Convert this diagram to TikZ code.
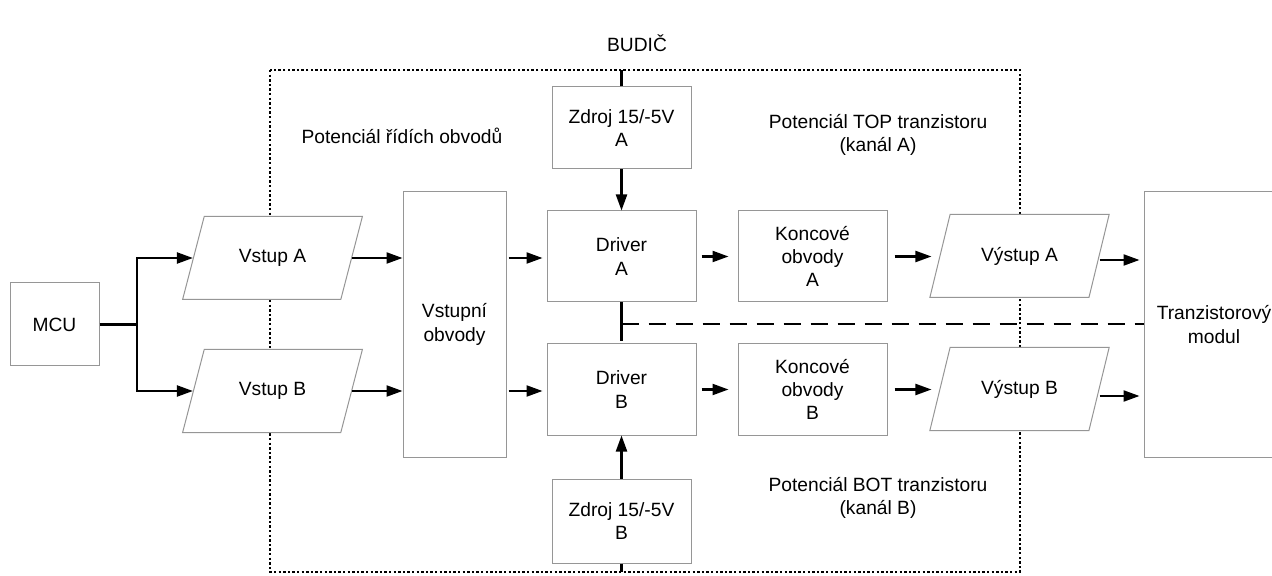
\documentclass[tikz,border=0pt]{standalone}
\usepackage{fontspec}
\setmainfont{Liberation Sans}
\usetikzlibrary{shapes.geometric, positioning, arrows.meta}
\definecolor{boxgray}{RGB}{150,150,150}

\begin{document}
\begin{tikzpicture}[x=0.5pt, y=-0.5pt, node distance=66.5pt,
		>={Triangle[length=8pt, width=5.5pt]},
		every node/.style={font=\fontsize{9.6}{11.7}\selectfont},
		box/.style={draw=boxgray, fill=white, align=center, line width=0.5pt},
		io/.style={trapezium, trapezium left angle=62, trapezium right angle=118, trapezium stretches=true, draw=boxgray, fill=white, line width=0.5pt, minimum width=90pt, minimum height=41.5pt, inner sep=1pt},
		flow/.style={->, line width=1.1pt},
		wire/.style={line width=1.1pt},
		border/.style={line width=0.9pt, dash pattern=on 1.2pt off 1.1pt},
		cut/.style={line width=1.1pt, dash pattern=on 8.5pt off 5pt}]
		\useasboundingbox (0,0) rectangle (1272,576);
		\clip (0,0) rectangle (1272,576);
		% hranice budice
		\coordinate (bnw) at (270,70);
		\coordinate (bse) at (1020,572);
		\draw[border] (bnw) rectangle (bse);
		\node (budic) at (637,43) {BUDIČ};
		\node (potR) at (402,136) {Potenciál řídích obvodů};
		\node[align=center] (potTop) at (878,135) {Potenciál TOP tranzistoru\\(kanál A)};
		\node[align=center] (potBot) at (878,498) {Potenciál BOT tranzistoru\\(kanál B)};
		% bloky
		\node[box, minimum width=44.5pt, minimum height=41.5pt] (mcu) at (54.5,324.5) {MCU};
		\node[io] (vstupA) at (272.5,258) {Vstup A};
		\node[io, below of=vstupA] (vstupB) {Vstup B};
		\node[box, minimum width=51.5pt, minimum height=132.5pt] (vstupni) at (454.5,324.5) {Vstupní\\obvody};
		\node[box, minimum width=74.5pt, minimum height=45.5pt] (drvA) at (621.5,256.5) {Driver\\A};
		\node[box, minimum width=74.5pt, minimum height=45.5pt, below of=drvA] (drvB) {Driver\\B};
		\node[box, minimum width=69.5pt, minimum height=41pt] (zdrA) at (621.5,128) {Zdroj 15/-5V\\A};
		\node[box, minimum width=69.5pt, minimum height=42pt] (zdrB) at (621.5,521) {Zdroj 15/-5V\\B};
		\node[box, minimum width=74.5pt, minimum height=45.5pt] (konA) at (812.5,256.5) {Koncové\\obvody\\A};
		\node[box, minimum width=74.5pt, minimum height=45.5pt, below of=konA] (konB) {Koncové\\obvody\\B};
		\node[io] (vystA) at (1019.5,256) {Výstup A};
		\node[io, below of=vystA] (vystB) {Výstup B};
		\node[box, minimum width=70pt, minimum height=132.5pt] (modul) at (1214,324.5) {Tranzistorový\\modul};
		% spoje
		\coordinate (split) at (137,324.5);
		\coordinate (tee) at (621.5,324);
		\coordinate (teeEnd) at (621.5,341);
		\draw[wire] (mcu) -- (split);
		\draw[flow] (split) |- (vstupA.west);
		\draw[flow] (split) |- (vstupB.west);
		\draw[flow] (vstupA.east) -- (vstupA.east -| vstupni.west);
		\draw[flow] (vstupB.east) -- (vstupB.east -| vstupni.west);
		\draw[flow, shorten <=1pt, shorten >=2pt] (vstupni.east |- vstupA) -- (vstupA -| drvA.west);
		\draw[flow, shorten <=1pt, shorten >=2pt] (vstupni.east |- vstupB) -- (vstupB -| drvB.west);
		\draw[flow, shorten <=2.5pt, shorten >=4.5pt] (drvA) -- (konA);
		\draw[flow, shorten <=2.5pt, shorten >=4.5pt] (drvB) -- (konB);
		\draw[flow, shorten <=3.5pt, shorten >=4pt] (konA.east) -- (konA.east -| vystA.west);
		\draw[flow, shorten <=3.5pt, shorten >=4pt] (konB.east) -- (konB.east -| vystB.west);
		\draw[flow, shorten >=2pt] ([yshift=-2pt]vystA.east) -- ([yshift=-2pt]vystA.east -| modul.west);
		\draw[flow, shorten >=2pt] ([yshift=-3.5pt]vystB.east) -- ([yshift=-3.5pt]vystB.east -| modul.west);
		\draw[flow] (zdrA) -- (drvA);
		\draw[flow] (zdrB) -- (drvB);
		\draw[wire] (zdrA.north) -- (zdrA.north |- bnw);
		\draw[wire] (zdrB.south) -- (zdrB.south |- bse);
		\draw[wire] (drvA.south) -- (teeEnd);
		\draw[cut] (tee) -- (tee -| modul.west);
	\end{tikzpicture}
\end{document}
